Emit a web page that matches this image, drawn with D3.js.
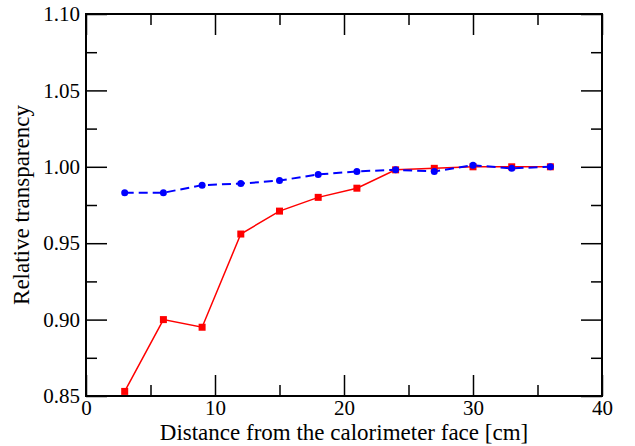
<!DOCTYPE html>
<html>
<head>
<meta charset="utf-8">
<script src="https://cdn.jsdelivr.net/npm/d3@7"></script>
<style>body{margin:0}</style>
</head>
<body>
<svg id="chart" width="635" height="446" font-family="Liberation Serif"></svg>
<script>
// distance from calorimeter face (cm)
var distance = [3, 6, 9, 12, 15, 18, 21, 24, 27, 30, 33, 36];
// red squares, solid line
var redSeries = [0.853, 0.900, 0.895, 0.956, 0.971, 0.980, 0.986, 0.998, 0.999, 1.000, 1.000, 1.000];
// blue circles, dashed line
var blueSeries = [0.983, 0.983, 0.988, 0.989, 0.991, 0.995, 0.997, 0.998, 0.997, 1.001, 0.999, 1.000];

var xTicks = [0, 10, 20, 30, 40];
var xMinor = [5, 15, 25, 35];
var yTicks = [0.85, 0.90, 0.95, 1.00, 1.05, 1.10];
var yMinor = [0.875, 0.925, 0.975, 1.025, 1.075];

var font = "Liberation Serif";

var margin = { top: 14, right: 33, bottom: 50, left: 86 },
  width = 635 - margin.left - margin.right,
  height = 446 - margin.top - margin.bottom;

var svg = d3.select("#chart")
  .append("g")
  .attr("font-family", font)
  .attr("transform", "translate(" + margin.left + "," + margin.top + ")");

var x = d3.scaleLinear().domain([0, 40]).range([0, width]);
var y = d3.scaleLinear().domain([0.85, 1.10]).range([height, 0]);

var major = 21, minor = 11;

// bottom axis (ticks inward)
svg.append("g")
  .attr("transform", "translate(0," + height + ")")
  .call(d3.axisBottom(x).tickValues(xTicks).tickSize(-major).tickSizeOuter(0).tickPadding(4).tickFormat(d3.format("d")))
  .call(g => g.selectAll("text").attr("font-size", 21));
svg.append("g")
  .attr("transform", "translate(0," + height + ")")
  .call(d3.axisBottom(x).tickValues(xMinor).tickSize(-minor).tickSizeOuter(0).tickFormat(""));
// top axis mirrored
svg.append("g")
  .call(d3.axisTop(x).tickValues(xTicks).tickSize(-major).tickSizeOuter(0).tickFormat(""));
svg.append("g")
  .call(d3.axisTop(x).tickValues(xMinor).tickSize(-minor).tickSizeOuter(0).tickFormat(""));

// left axis
svg.append("g")
  .call(d3.axisLeft(y).tickValues(yTicks).tickSize(-major).tickSizeOuter(0).tickPadding(6).tickFormat(d3.format(".2f")))
  .call(g => g.selectAll("text").attr("font-size", 21));
svg.append("g")
  .call(d3.axisLeft(y).tickValues(yMinor).tickSize(-minor).tickSizeOuter(0).tickFormat(""));
// right axis mirrored
svg.append("g")
  .attr("transform", "translate(" + width + ",0)")
  .call(d3.axisRight(y).tickValues(yTicks).tickSize(-major).tickSizeOuter(0).tickFormat(""));
svg.append("g")
  .attr("transform", "translate(" + width + ",0)")
  .call(d3.axisRight(y).tickValues(yMinor).tickSize(-minor).tickSizeOuter(0).tickFormat(""));

svg.selectAll(".domain").remove();
svg.selectAll(".tick line").attr("stroke", "#000").attr("stroke-width", 1.5);

// frame
svg.append("rect")
  .attr("width", width).attr("height", height)
  .attr("fill", "none").attr("stroke", "#000").attr("stroke-width", 2);

var line = d3.line()
  .x(function (d, i) { return x(distance[i]); })
  .y(function (d) { return y(d); });

// red series
svg.append("path")
  .datum(redSeries)
  .attr("fill", "none")
  .attr("stroke", "#ff0000")
  .attr("stroke-width", 1.5)
  .attr("d", line);

// blue series
svg.append("path")
  .datum(blueSeries)
  .attr("fill", "none")
  .attr("stroke", "#0000ff")
  .attr("stroke-width", 2)
  .attr("stroke-dasharray", "9,5")
  .attr("d", line);

svg.selectAll(".sq")
  .data(redSeries)
  .enter().append("rect")
  .attr("x", function (d, i) { return x(distance[i]) - 3.5; })
  .attr("y", function (d) { return y(d) - 3.5; })
  .attr("width", 7).attr("height", 7)
  .attr("fill", "#ff0000");

svg.selectAll(".dot")
  .data(blueSeries)
  .enter().append("circle")
  .attr("cx", function (d, i) { return x(distance[i]); })
  .attr("cy", function (d) { return y(d); })
  .attr("r", 3.5)
  .attr("fill", "#0000ff");

// axis titles
svg.append("text")
  .attr("x", width / 2)
  .attr("y", height + 44)
  .attr("text-anchor", "middle")
  .attr("font-size", 23)
  .text("Distance from the calorimeter face [cm]");

svg.append("text")
  .attr("transform", "translate(" + (-57) + "," + (height / 2) + ") rotate(-90)")
  .attr("text-anchor", "middle")
  .attr("font-size", 23)
  .text("Relative transparency");

// axis groups default to sans-serif; use the serif face throughout
svg.selectAll("g").attr("font-family", font);
svg.selectAll("text").attr("font-family", font).attr("fill", "#000");
</script>
</body>
</html>
